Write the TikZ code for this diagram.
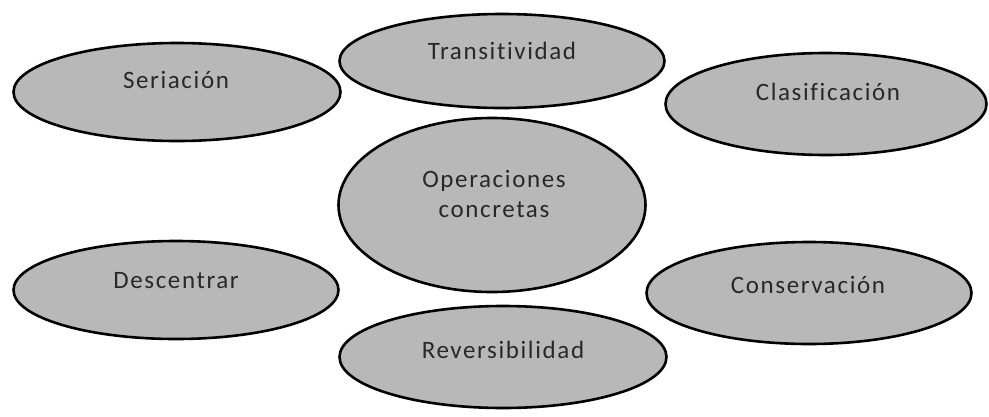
\documentclass[tikz,border=0pt]{standalone}
\usepackage{fontspec}
\setmainfont{Carlito}[LetterSpace=6.5,Ligatures=NoCommon]
\usetikzlibrary{shapes.geometric}
\definecolor{ellfill}{RGB}{184,184,184}
\definecolor{txt}{RGB}{40,40,40}
\begin{document}
\begin{tikzpicture}[x=1pt,y=-1pt,
  oval/.style={ellipse, draw=black, line width=2.6pt, fill=ellfill, inner sep=0pt},
  lbl/.style={anchor=base, font=\fontsize{25}{30}\selectfont, text=txt, inner sep=0pt, align=center}]
\useasboundingbox (0,0) rectangle (989,416);
\node[oval, minimum width=327pt, minimum height=98pt] (ser) at (177,92) {};
\node[oval, minimum width=325pt, minimum height=94pt] (tra) at (502,61) {};
\node[oval, minimum width=321pt, minimum height=102pt] (cla) at (826,104) {};
\node[oval, minimum width=307pt, minimum height=174pt] (ope) at (492,205) {};
\node[oval, minimum width=325pt, minimum height=98pt] (des) at (176,290) {};
\node[oval, minimum width=325pt, minimum height=102pt] (con) at (809,293) {};
\node[oval, minimum width=327pt, minimum height=102pt] (rev) at (503,357) {};
\node[lbl] (ser-t) at (176,88) {Seriación};
\node[lbl] (tra-t) at (502,59) {Transitividad};
\node[lbl] (cla-t) at (828,100) {Clasificación};
\node[lbl] (ope-t) at (494,217) {Operaciones\\concretas};
\node[lbl] (des-t) at (176,288) {Descentrar};
\node[lbl] (con-t) at (808,293) {Conservación};
\node[lbl] (rev-t) at (503,358) {Reversibilidad};
\end{tikzpicture}
\end{document}
